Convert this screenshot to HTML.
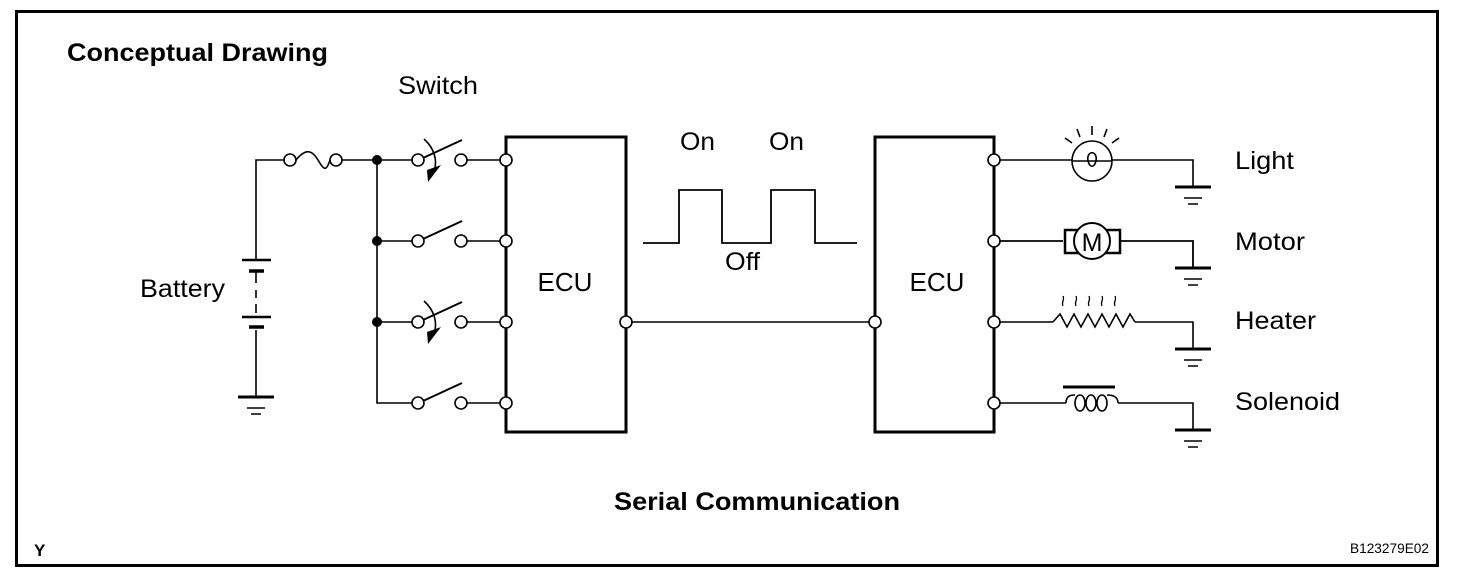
<!DOCTYPE html>
<html><head><meta charset="utf-8"><style>
html,body{margin:0;padding:0;background:#fff;}
svg{display:block;}
text{font-family:"Liberation Sans",Arial,sans-serif;fill:#000;}
</style></head><body>
<svg width="1472" height="578" viewBox="0 0 1472 578" xmlns="http://www.w3.org/2000/svg">
<rect x="16.5" y="11.5" width="1421" height="554" fill="none" stroke="#000" stroke-width="3"/>
<text x="67" y="61" font-size="25" font-weight="bold" textLength="261" lengthAdjust="spacingAndGlyphs">Conceptual Drawing</text>
<text x="398" y="94" font-size="25" textLength="80" lengthAdjust="spacingAndGlyphs">Switch</text>
<text x="140" y="297" font-size="25" textLength="85" lengthAdjust="spacingAndGlyphs">Battery</text>
<text x="565" y="291" font-size="26" text-anchor="middle">ECU</text>
<text x="937" y="291" font-size="26" text-anchor="middle">ECU</text>
<text x="680" y="150" font-size="25" textLength="35" lengthAdjust="spacingAndGlyphs">On</text>
<text x="769" y="150" font-size="25" textLength="35" lengthAdjust="spacingAndGlyphs">On</text>
<text x="725" y="270" font-size="25" textLength="35" lengthAdjust="spacingAndGlyphs">Off</text>
<text x="1235" y="169" font-size="25" textLength="59" lengthAdjust="spacingAndGlyphs">Light</text>
<text x="1235" y="250" font-size="25" textLength="70" lengthAdjust="spacingAndGlyphs">Motor</text>
<text x="1235" y="329" font-size="25" textLength="81" lengthAdjust="spacingAndGlyphs">Heater</text>
<text x="1235" y="410" font-size="25" textLength="105" lengthAdjust="spacingAndGlyphs">Solenoid</text>
<text x="614" y="510" font-size="25" font-weight="bold" textLength="286" lengthAdjust="spacingAndGlyphs">Serial Communication</text>
<text x="34" y="556" font-size="17" font-weight="bold">Y</text>
<text x="1429" y="553" font-size="13.5" text-anchor="end" textLength="79" lengthAdjust="spacingAndGlyphs">B123279E02</text>

<g fill="none" stroke="#000" stroke-width="1.6">
<path d="M256 260 V160 H284"/>
<path d="M296 160 C306 148 312 150 318 160 S326 172 330 160"/>
<path d="M342 160 H412"/>
<path d="M256 272 V283 M256 290 V298 M256 304 V313 M256 330 V397"/>
<path d="M377 160 V403 H412 M377 241 H412 M377 322 H412"/>
<path d="M467 160 H500 M467 241 H500 M467 322 H500 M467 403 H500"/>
<path d="M423 158 L462 140 M423 239 L462 221 M423 320 L462 302 M423 401 L462 383" stroke-width="2"/>
<path d="M424 139 C434 148 438 160 434 172"/>
<path d="M424 301 C434 310 438 322 434 334"/>
<path d="M632 322 H869"/>
<path d="M643 243 H679 V190 H722 V243 H771 V190 H815 V243 H857" stroke-width="1.8"/>
<path d="M1000 160 H1193 V187"/>
<path d="M1000 241 H1063 M1120 241 H1193 V268" stroke-width="1.8"/>
<path d="M1000 322 H1053 M1135 322 H1193 V349"/>
<path d="M1000 403 H1066 M1118 403 H1193 V430"/>
<circle cx="1092" cy="161" r="20" fill="#fff"/>
<path d="M1072 161 H1112"/>
<path d="M1088 161 C1086 150 1098 150 1096 161 C1094 168 1090 168 1088 161"/>
<path d="M1092 126 V135 M1077 129 L1080 137 M1107 129 L1104 137 M1065 138 L1072 143 M1119 138 L1112 143"/>
<path d="M1053 322 L1060 314 L1067 327 L1074 314 L1081 327 L1088 314 L1095 327 L1102 314 L1109 327 L1116 314 L1123 327 L1130 314 L1135 322"/>
<path d="M1063 306 c-2 -4 2 -6 0 -10 M1076 306 c-2 -4 2 -6 0 -10 M1089 306 c-2 -4 2 -6 0 -10 M1102 306 c-2 -4 2 -6 0 -10 M1115 306 c-2 -4 2 -6 0 -10" stroke-width="1.3"/>
<path d="M1066 403 C1066 395 1072 395 1075 395"/>
<ellipse cx="1080" cy="403" rx="5" ry="8"/>
<ellipse cx="1091" cy="403" rx="5" ry="8"/>
<ellipse cx="1102" cy="403" rx="5" ry="8"/>
<path d="M1107 395 C1115 395 1118 398 1118 403"/>
</g>
<g fill="none" stroke="#000" stroke-width="3">
<rect x="506" y="137" width="120" height="295"/>
<rect x="875" y="137" width="119" height="295"/>
<path d="M242 260 H271 M242 317 H271" stroke-width="2.5"/>
<path d="M249 271 H264 M249 327 H264" stroke-width="3.5"/>
<path d="M238 397 H274 M1175 187 H1211 M1175 268 H1211 M1175 349 H1211 M1175 430 H1211"/>
<path d="M1063 387 H1115"/>
<rect x="1065" y="230" width="55" height="23" stroke-width="2.5"/>
</g>
<g fill="none" stroke="#000" stroke-width="1.5">
<path d="M247 408 H265 M251 414 H261"/>
<path d="M1184 198 H1202 M1188 204 H1198 M1184 279 H1202 M1188 285 H1198 M1184 360 H1202 M1188 366 H1198 M1184 441 H1202 M1188 447 H1198"/>
</g>
<circle cx="1092" cy="241" r="18" fill="#fff" stroke="#000" stroke-width="2"/>
<text x="1092" y="251" font-size="25" text-anchor="middle">M</text>
<path d="M427 170 L441 165 L428 182 Z M427 332 L441 327 L428 344 Z" fill="#000"/>
<g fill="#000"><circle cx="377" cy="160" r="5"/><circle cx="377" cy="241" r="5"/><circle cx="377" cy="322" r="5"/></g>
<g fill="#fff" stroke="#000" stroke-width="1.6">
<circle cx="290" cy="160" r="6"/><circle cx="336" cy="160" r="6"/>
<circle cx="418" cy="160" r="6"/><circle cx="418" cy="241" r="6"/><circle cx="418" cy="322" r="6"/><circle cx="418" cy="403" r="6"/>
<circle cx="461" cy="160" r="6"/><circle cx="461" cy="241" r="6"/><circle cx="461" cy="322" r="6"/><circle cx="461" cy="403" r="6"/>
<circle cx="506" cy="160" r="6"/><circle cx="506" cy="241" r="6"/><circle cx="506" cy="322" r="6"/><circle cx="506" cy="403" r="6"/>
<circle cx="626" cy="322" r="6"/><circle cx="875" cy="322" r="6"/>
<circle cx="994" cy="160" r="6"/><circle cx="994" cy="241" r="6"/><circle cx="994" cy="322" r="6"/><circle cx="994" cy="403" r="6"/>
</g>
</svg>
</body></html>
